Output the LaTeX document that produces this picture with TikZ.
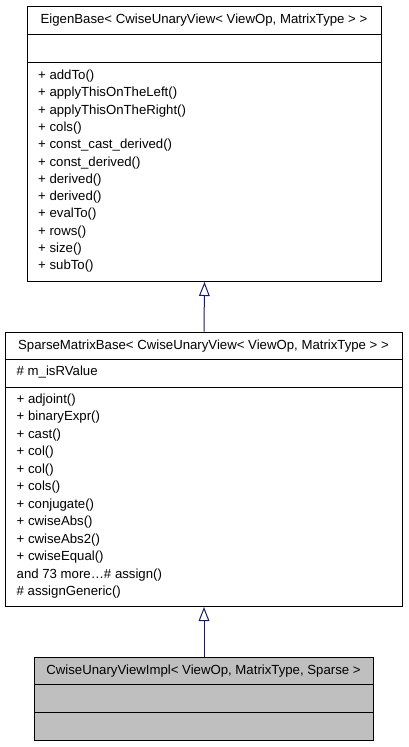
\documentclass[tikz,border=0pt]{standalone}
\usepackage{fontspec}
\setmainfont{Liberation Sans}
\usetikzlibrary{arrows.meta}
\definecolor{edgeblue}{HTML}{191970}
\definecolor{boxgrey}{HTML}{BFBFBF}
\begin{document}
\begin{tikzpicture}[x=1pt,y=-1pt,
  boxline/.style={draw=black, line width=1pt, inner sep=0pt, anchor=north west},
  txt/.style={anchor=west, inner sep=0pt, font=\fontsize{13.2}{15}\selectfont, text height=9.5pt, text depth=2.5pt},
  ttl/.style={txt, anchor=center},
  inh/.style={draw=edgeblue, line width=1pt, -{Triangle[open, length=14pt, width=10.7pt, fill=white]}}
]
\useasboundingbox (0,0) rectangle (408,747);
% Box 1
\node[boxline, minimum width=354, minimum height=275] (eb) at (27,6) {};
\draw[line width=1pt] (27,34) -- (381,34);
\draw[line width=1pt] (27,62) -- (381,62);
\node[ttl] (ebt) at (204,20) {EigenBase< CwiseUnaryView< ViewOp, MatrixType > >};
\foreach \t [count=\i from 0] in {addTo(),applyThisOnTheLeft(),applyThisOnTheRight(),cols(),const\_cast\_derived(),const\_derived(),derived(),derived(),evalTo(),rows(),size(),subTo()}
  \node[txt] (eb\i) at (38,76+17.3*\i) {+ \t};
% Box 2
\node[boxline, minimum width=397, minimum height=274.3] (sm) at (5,331.7) {};
\draw[line width=1pt] (5,359.7) -- (402,359.7);
\draw[line width=1pt] (5,387.7) -- (402,387.7);
\node[ttl] (smt) at (203.5,345.7) {SparseMatrixBase< CwiseUnaryView< ViewOp, MatrixType > >};
\node[txt] (sma) at (16.5,372.3) {\# m\_isRValue};
\foreach \t [count=\i from 0] in {+ adjoint(),+ binaryExpr(),+ cast(),+ col(),+ col(),+ cols(),+ conjugate(),+ cwiseAbs(),+ cwiseAbs2(),+ cwiseEqual(),and 73 more…\# assign(),\# assignGeneric()}
  \node[txt] (sm\i) at (16.5,400+17.48*\i) {\t};
% Box 3
\node[boxline, fill=boxgrey, minimum width=339, minimum height=83.6] (cw) at (34,656.7) {};
\draw[line width=1pt] (34,684.7) -- (373,684.7);
\draw[line width=1pt] (34,712.3) -- (373,712.3);
\node[ttl] (cwt) at (203.5,670.7) {CwiseUnaryViewImpl< ViewOp, MatrixType, Sparse >};
% Inheritance arrows
\draw[inh] (sm.north) -- (eb.south);
\draw[inh] (cw.north) -- (sm.south);
\end{tikzpicture}
\end{document}
